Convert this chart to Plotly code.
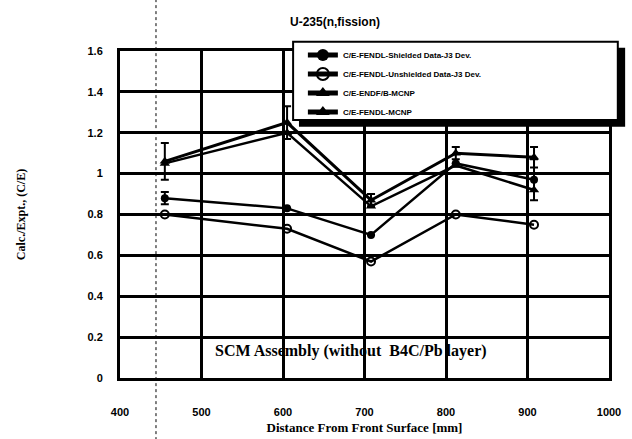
import plotly.graph_objects as go

distance = [455, 605, 708, 812, 908]
shielded = [0.88, 0.83, 0.70, 1.05, 0.97]
unshielded = [0.80, 0.73, 0.57, 0.80, 0.75]
endf_mcnp = [1.05, 1.20, 0.84, 1.04, 0.92]
fendl_mcnp = [1.06, 1.25, 0.87, 1.10, 1.08]
err_shielded = [0.03, 0.0, 0.0, 0.0, 0.10]
err_fendl = [0.09, 0.08, 0.03, 0.03, 0.05]

names = ["C/E-FENDL-Shielded Data-J3 Dev.", "C/E-FENDL-Unshielded Data-J3 Dev.",
         "C/E-ENDF/B-MCNP", "C/E-FENDL-MCNP"]
x_ticks = [400, 500, 600, 700, 800, 900, 1000]
y_ticks = [0, 0.2, 0.4, 0.6, 0.8, 1, 1.2, 1.4, 1.6]
y_ticklabels = ["0", "0.2", "0.4", "0.6", "0.8", "1", "1.2", "1.4", "1.6"]

sans = "Liberation Sans Narrow, Arial Narrow, Liberation Sans, Arial"
serif = "Liberation Serif, Times New Roman, serif"

fig = go.Figure()
fig.add_trace(go.Scatter(x=distance, y=shielded, name=names[0], mode="lines+markers",
                         line=dict(color="black", width=2.5),
                         marker=dict(symbol="circle", size=8, color="black"),
                         error_y=dict(type="data", array=err_shielded, color="black", thickness=2, width=4)))
fig.add_trace(go.Scatter(x=distance, y=unshielded, name=names[1], mode="lines+markers",
                         line=dict(color="black", width=2.5),
                         marker=dict(symbol="circle-open", size=8, color="black", line=dict(width=2))))
fig.add_trace(go.Scatter(x=distance, y=endf_mcnp, name=names[2], mode="lines+markers",
                         line=dict(color="black", width=2.5),
                         marker=dict(symbol="triangle-up", size=9, color="black")))
fig.add_trace(go.Scatter(x=distance, y=fendl_mcnp, name=names[3], mode="lines+markers",
                         line=dict(color="black", width=3),
                         marker=dict(symbol="triangle-up", size=9, color="black"),
                         error_y=dict(type="data", array=err_fendl, color="black", thickness=2, width=4)))

# legend box with shadow
fig.add_shape(type="rect", xref="paper", yref="paper", x0=0.366, x1=1.033, y0=0.768, y1=1.01,
              fillcolor="black", line=dict(width=0), layer="above")
fig.add_shape(type="rect", xref="paper", yref="paper", x0=0.354, x1=1.018, y0=0.789, y1=1.028,
              fillcolor="white", line=dict(color="black", width=2), layer="above")
# scan artifact vertical dotted line
fig.add_shape(type="line", xref="paper", yref="paper", x0=0.0736, x1=0.0736, y0=-0.19, y1=1.16,
              line=dict(color="black", width=1, dash="dot"), layer="above")

fig.add_annotation(x=0.472, y=0.05, xref="paper", yref="paper", text="SCM Assembly (without  B4C/Pb layer)",
                   showarrow=False, font=dict(family=serif, size=16, color="black", weight="bold"))
fig.add_annotation(x=0.44, y=1.09, xref="paper", yref="paper", text="U-235(n,fission)",
                   showarrow=False, xanchor="center", yanchor="middle",
                   font=dict(family=sans, size=12, color="black", weight="bold"))

fig.update_layout(
    width=632, height=439,
    margin=dict(l=120, r=23, t=51, b=61, autoexpand=False),
    plot_bgcolor="white", paper_bgcolor="white",
    showlegend=True,
    legend=dict(x=0.374, y=1.032, xanchor="left", yanchor="top", bgcolor="rgba(0,0,0,0)",
                borderwidth=0, font=dict(family=sans, size=8, color="black", weight="bold"),
                tracegroupgap=0, itemsizing="constant"),
    xaxis=dict(range=[400, 1000], tickvals=x_ticks, showgrid=True, gridcolor="black", gridwidth=2.5,
               showline=True, linecolor="black", linewidth=3, mirror=True, zeroline=False,
               automargin=False,
               ticks="outside", ticklen=22, tickcolor="rgba(0,0,0,0)",
               tickfont=dict(family=sans, size=11, color="black", weight="bold"),
               title=dict(text="Distance From Front Surface [mm]", standoff=6,
                          font=dict(family=serif, size=13, color="black", weight="bold"))),
    yaxis=dict(range=[0, 1.6], tickvals=y_ticks, ticktext=y_ticklabels, showgrid=True, gridcolor="black",
               gridwidth=2.5, showline=True, linecolor="black", linewidth=3, mirror=True, zeroline=False,
               automargin=False,
               ticks="outside", ticklen=12, tickcolor="rgba(0,0,0,0)",
               tickfont=dict(family=sans, size=11, color="black", weight="bold"),
               title=dict(text="Calc./Expt., (C/E)", standoff=60,
                          font=dict(family=serif, size=12, color="black", weight="bold"))),
)

fig.write_html("out.html")
